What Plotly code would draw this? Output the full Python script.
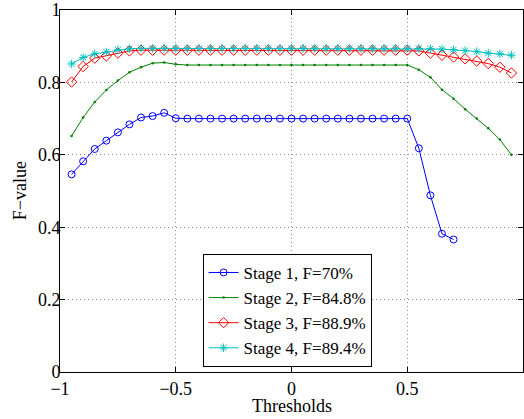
import plotly.graph_objects as go

thresholds = [-0.95, -0.90, -0.85, -0.80, -0.75, -0.70, -0.65, -0.60, -0.55, -0.50,
              -0.45, -0.40, -0.35, -0.30, -0.25, -0.20, -0.15, -0.10, -0.05, 0.00,
              0.05, 0.10, 0.15, 0.20, 0.25, 0.30, 0.35, 0.40, 0.45, 0.50,
              0.55, 0.60, 0.65, 0.70, 0.75, 0.80, 0.85, 0.90, 0.95]

stage1 = [0.546, 0.582, 0.616, 0.639, 0.662, 0.684, 0.703, 0.707, 0.716, 0.701,
          0.700, 0.700, 0.700, 0.700, 0.700, 0.700, 0.700, 0.700, 0.700, 0.700,
          0.700, 0.700, 0.700, 0.700, 0.700, 0.700, 0.700, 0.700, 0.700, 0.700,
          0.618, 0.488, 0.382, 0.366]

stage2 = [0.652, 0.703, 0.746, 0.779, 0.805, 0.828, 0.842, 0.853, 0.855, 0.850,
          0.848, 0.848, 0.848, 0.848, 0.848, 0.848, 0.848, 0.848, 0.848, 0.848,
          0.848, 0.848, 0.848, 0.848, 0.848, 0.848, 0.848, 0.848, 0.848, 0.848,
          0.835, 0.814, 0.780, 0.755, 0.726, 0.700, 0.673, 0.642, 0.600]

stage3 = [0.801, 0.844, 0.867, 0.873, 0.881, 0.887, 0.889, 0.889, 0.889, 0.889,
          0.889, 0.889, 0.889, 0.889, 0.889, 0.889, 0.889, 0.889, 0.889, 0.889,
          0.889, 0.889, 0.889, 0.889, 0.889, 0.889, 0.889, 0.889, 0.889, 0.889,
          0.887, 0.881, 0.875, 0.870, 0.865, 0.859, 0.852, 0.842, 0.826]

stage4 = [0.851, 0.869, 0.879, 0.884, 0.890, 0.893, 0.894, 0.894, 0.894, 0.894,
          0.894, 0.894, 0.894, 0.894, 0.894, 0.894, 0.894, 0.894, 0.894, 0.894,
          0.894, 0.894, 0.894, 0.894, 0.894, 0.894, 0.894, 0.894, 0.894, 0.894,
          0.894, 0.893, 0.892, 0.890, 0.888, 0.885, 0.881, 0.879, 0.875]

names = ["Stage 1, F=70%", "Stage 2, F=84.8%", "Stage 3, F=88.9%", "Stage 4, F=89.4%"]
x_ticks = [-1, -0.5, 0, 0.5, 1]
y_ticks = [0, 0.2, 0.4, 0.6, 0.8, 1]

FONT = "Liberation Serif, Times New Roman, serif"

fig = go.Figure()
fig.add_trace(go.Scatter(x=thresholds[:len(stage1)], y=stage1, name=names[0], mode="lines+markers",
                         line=dict(color="#0000ff", width=1),
                         marker=dict(symbol="circle-open", size=7, color="#0000ff", line=dict(width=1))))
fig.add_trace(go.Scatter(x=thresholds, y=stage2, name=names[1], mode="lines+markers",
                         line=dict(color="#008000", width=1),
                         marker=dict(symbol="circle", size=2.5, color="#008000")))
fig.add_trace(go.Scatter(x=thresholds, y=stage3, name=names[2], mode="lines+markers",
                         line=dict(color="#ff0000", width=1),
                         marker=dict(symbol="diamond-open", size=8, color="#ff0000", line=dict(width=1))))
fig.add_trace(go.Scatter(x=thresholds, y=stage4, name=names[3], mode="lines+markers",
                         line=dict(color="#00bfbf", width=1),
                         marker=dict(symbol="asterisk-open", size=7, color="#00bfbf", line=dict(width=1, color="#00bfbf"))))

axis_common = dict(showline=True, linecolor="black", linewidth=1, mirror="ticks",
                   ticks="inside", ticklen=5, tickcolor="black",
                   showgrid=True, gridcolor="#8c8c8c", griddash="1px,3px", gridwidth=1,
                   zeroline=False, tickfont=dict(family=FONT, size=18, color="black"))

fig.update_xaxes(range=[-1, 1], tickvals=x_ticks, ticktext=["\u22121", "\u22120.5", "0", "0.5", "1"],
                 ticklabelstandoff=0, **axis_common)
fig.update_yaxes(range=[0, 1], tickvals=y_ticks, ticktext=["0", "0.2", "0.4", "0.6", "0.8", "1"],
                 ticklabelstandoff=-5, ticklabeloverflow="allow", **axis_common)

fig.add_annotation(text="Thresholds", xref="paper", yref="paper", x=0.5, y=-0.093,
                   xanchor="center", yanchor="middle", showarrow=False,
                   font=dict(family=FONT, size=18, color="black"))
fig.add_annotation(text="F\u2212value", xref="paper", yref="paper", x=-0.086, y=0.5,
                   xanchor="center", yanchor="middle", textangle=-90, showarrow=False,
                   font=dict(family=FONT, size=18, color="black"))

fig.update_layout(
    width=524, height=419,
    margin=dict(l=60, r=0, t=6, b=47),
    plot_bgcolor="white", paper_bgcolor="white",
    font=dict(family=FONT, size=18, color="black"),
    legend=dict(x=0.308, y=0.014, xanchor="left", yanchor="bottom",
                bgcolor="white", bordercolor="black", borderwidth=1,
                font=dict(family=FONT, size=17, color="black"),
                tracegroupgap=0, itemwidth=30),
    showlegend=True,
)

fig.write_html("out.html", config={"displayModeBar": False},
               post_script="document.body.style.margin='0px';document.body.style.overflow='hidden';")
